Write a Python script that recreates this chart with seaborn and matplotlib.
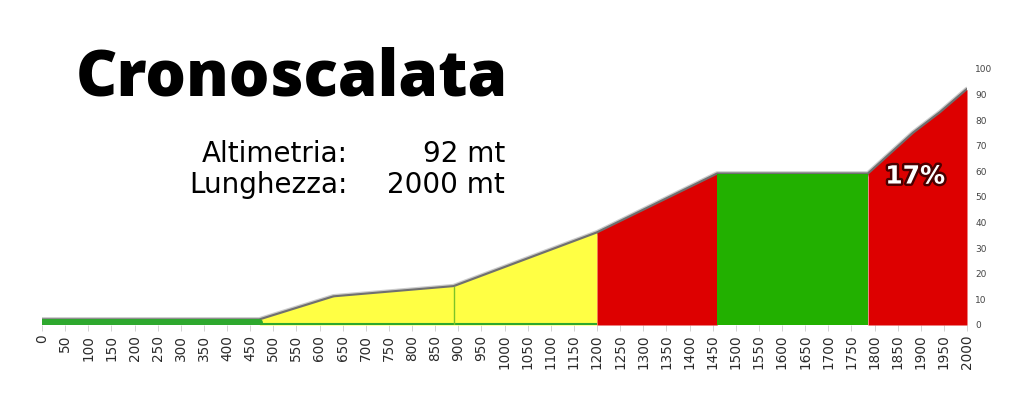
import matplotlib
matplotlib.use("Agg")
import matplotlib.pyplot as plt
import matplotlib.patheffects as pe
import seaborn as sns
import numpy as np
import pandas as pd

# profile points (distance in m, elevation in m)
distance = [0, 470, 630, 890, 1200, 1460, 1786, 1884, 1942, 2000]
elevation = [2, 2, 11, 15, 36, 59, 59, 75, 83, 92]

# coloured segments: (start, end, colour)
seg_start = [0, 470, 1200, 1460, 1786]
seg_end = [470, 1200, 1460, 1786, 2000]
seg_color = ["#2ea82e", "#ffff44", "#dd0000", "#22b000", "#dd0000"]

x_ticks = list(range(0, 2001, 50))
y_ticks = list(range(0, 101, 10))

title = "Cronoscalata"
info_labels = ["Altimetria:", "Lunghezza:"]
info_values = ["92 mt", "2000 mt"]
grade_label = "17%"

sns.set_theme(style="white")
plt.rcParams["font.family"] = ["DejaVu Sans"]

fig = plt.figure(figsize=(10.24, 4.03), dpi=100)
ax = fig.add_axes([42 / 1024, 78 / 403, 925 / 1024, 256 / 403])

df = pd.DataFrame({"distance": distance, "elevation": elevation})
xs = np.array(distance, dtype=float)
ys = np.array(elevation, dtype=float)

# soft shadow along the top edge
sns.lineplot(data=df, x="distance", y="elevation", ax=ax, color="#333333",
             lw=4, alpha=0.25, zorder=1)
sns.lineplot(data=df, x="distance", y="elevation", ax=ax, color="#333333",
             lw=2.2, alpha=0.6, zorder=1)

for s, e, c in zip(seg_start, seg_end, seg_color):
    xx = np.linspace(s, e, 200)
    yy = np.interp(xx, xs, ys)
    ax.fill_between(xx, 0, yy, color=c, lw=0, zorder=2)

# ground green band and baseline
ax.plot([0, 1200], [0.3, 0.3], color="#2ea82e", lw=1.5, zorder=3,
        solid_capstyle="butt")
ax.plot([0, 470], [1, 1], color="#2ea82e", lw=5, zorder=3,
        solid_capstyle="round")
ax.plot([890, 890], [0, np.interp(890, xs, ys)], color="#7cc428", lw=1, zorder=3)

ax.set_xlim(0, 2000)
ax.set_ylim(0, 100)
ax.set_xlabel("")
ax.set_ylabel("")
for sp in ax.spines.values():
    sp.set_visible(False)

ax.set_xticks(x_ticks)
ax.set_xticklabels([str(v) for v in x_ticks], rotation=90, fontsize=9.8,
                   color="#2a2a2a")
ax.tick_params(axis="x", length=4, width=0.6, color="#cccccc", pad=3, bottom=True)
ax.yaxis.tick_right()
ax.set_yticks(y_ticks)
ax.set_yticklabels([str(v) for v in y_ticks], fontsize=6.5, color="#444444")
ax.tick_params(axis="y", length=0, pad=6)

ax.text(1888, 58, grade_label, ha="center", va="center", fontsize=18,
        fontweight="bold", color="white", zorder=5,
        path_effects=[pe.withStroke(linewidth=3.5, foreground="#4a0000")])

fig.text(76 / 1024, 1 - 95 / 403, title, ha="left", va="baseline",
         fontsize=46, fontweight="heavy", family=["Open Sans", "DejaVu Sans"],
         color="black")
for i, (lab, val) in enumerate(zip(info_labels, info_values)):
    yb = 1 - (162 + 31 * i) / 403
    fig.text(348 / 1024, yb, lab, ha="right", va="baseline", fontsize=20,
             color="black")
    fig.text(505 / 1024, yb, val, ha="right", va="baseline", fontsize=20,
             color="black")

fig.savefig("out.png", dpi=100, facecolor="white")
